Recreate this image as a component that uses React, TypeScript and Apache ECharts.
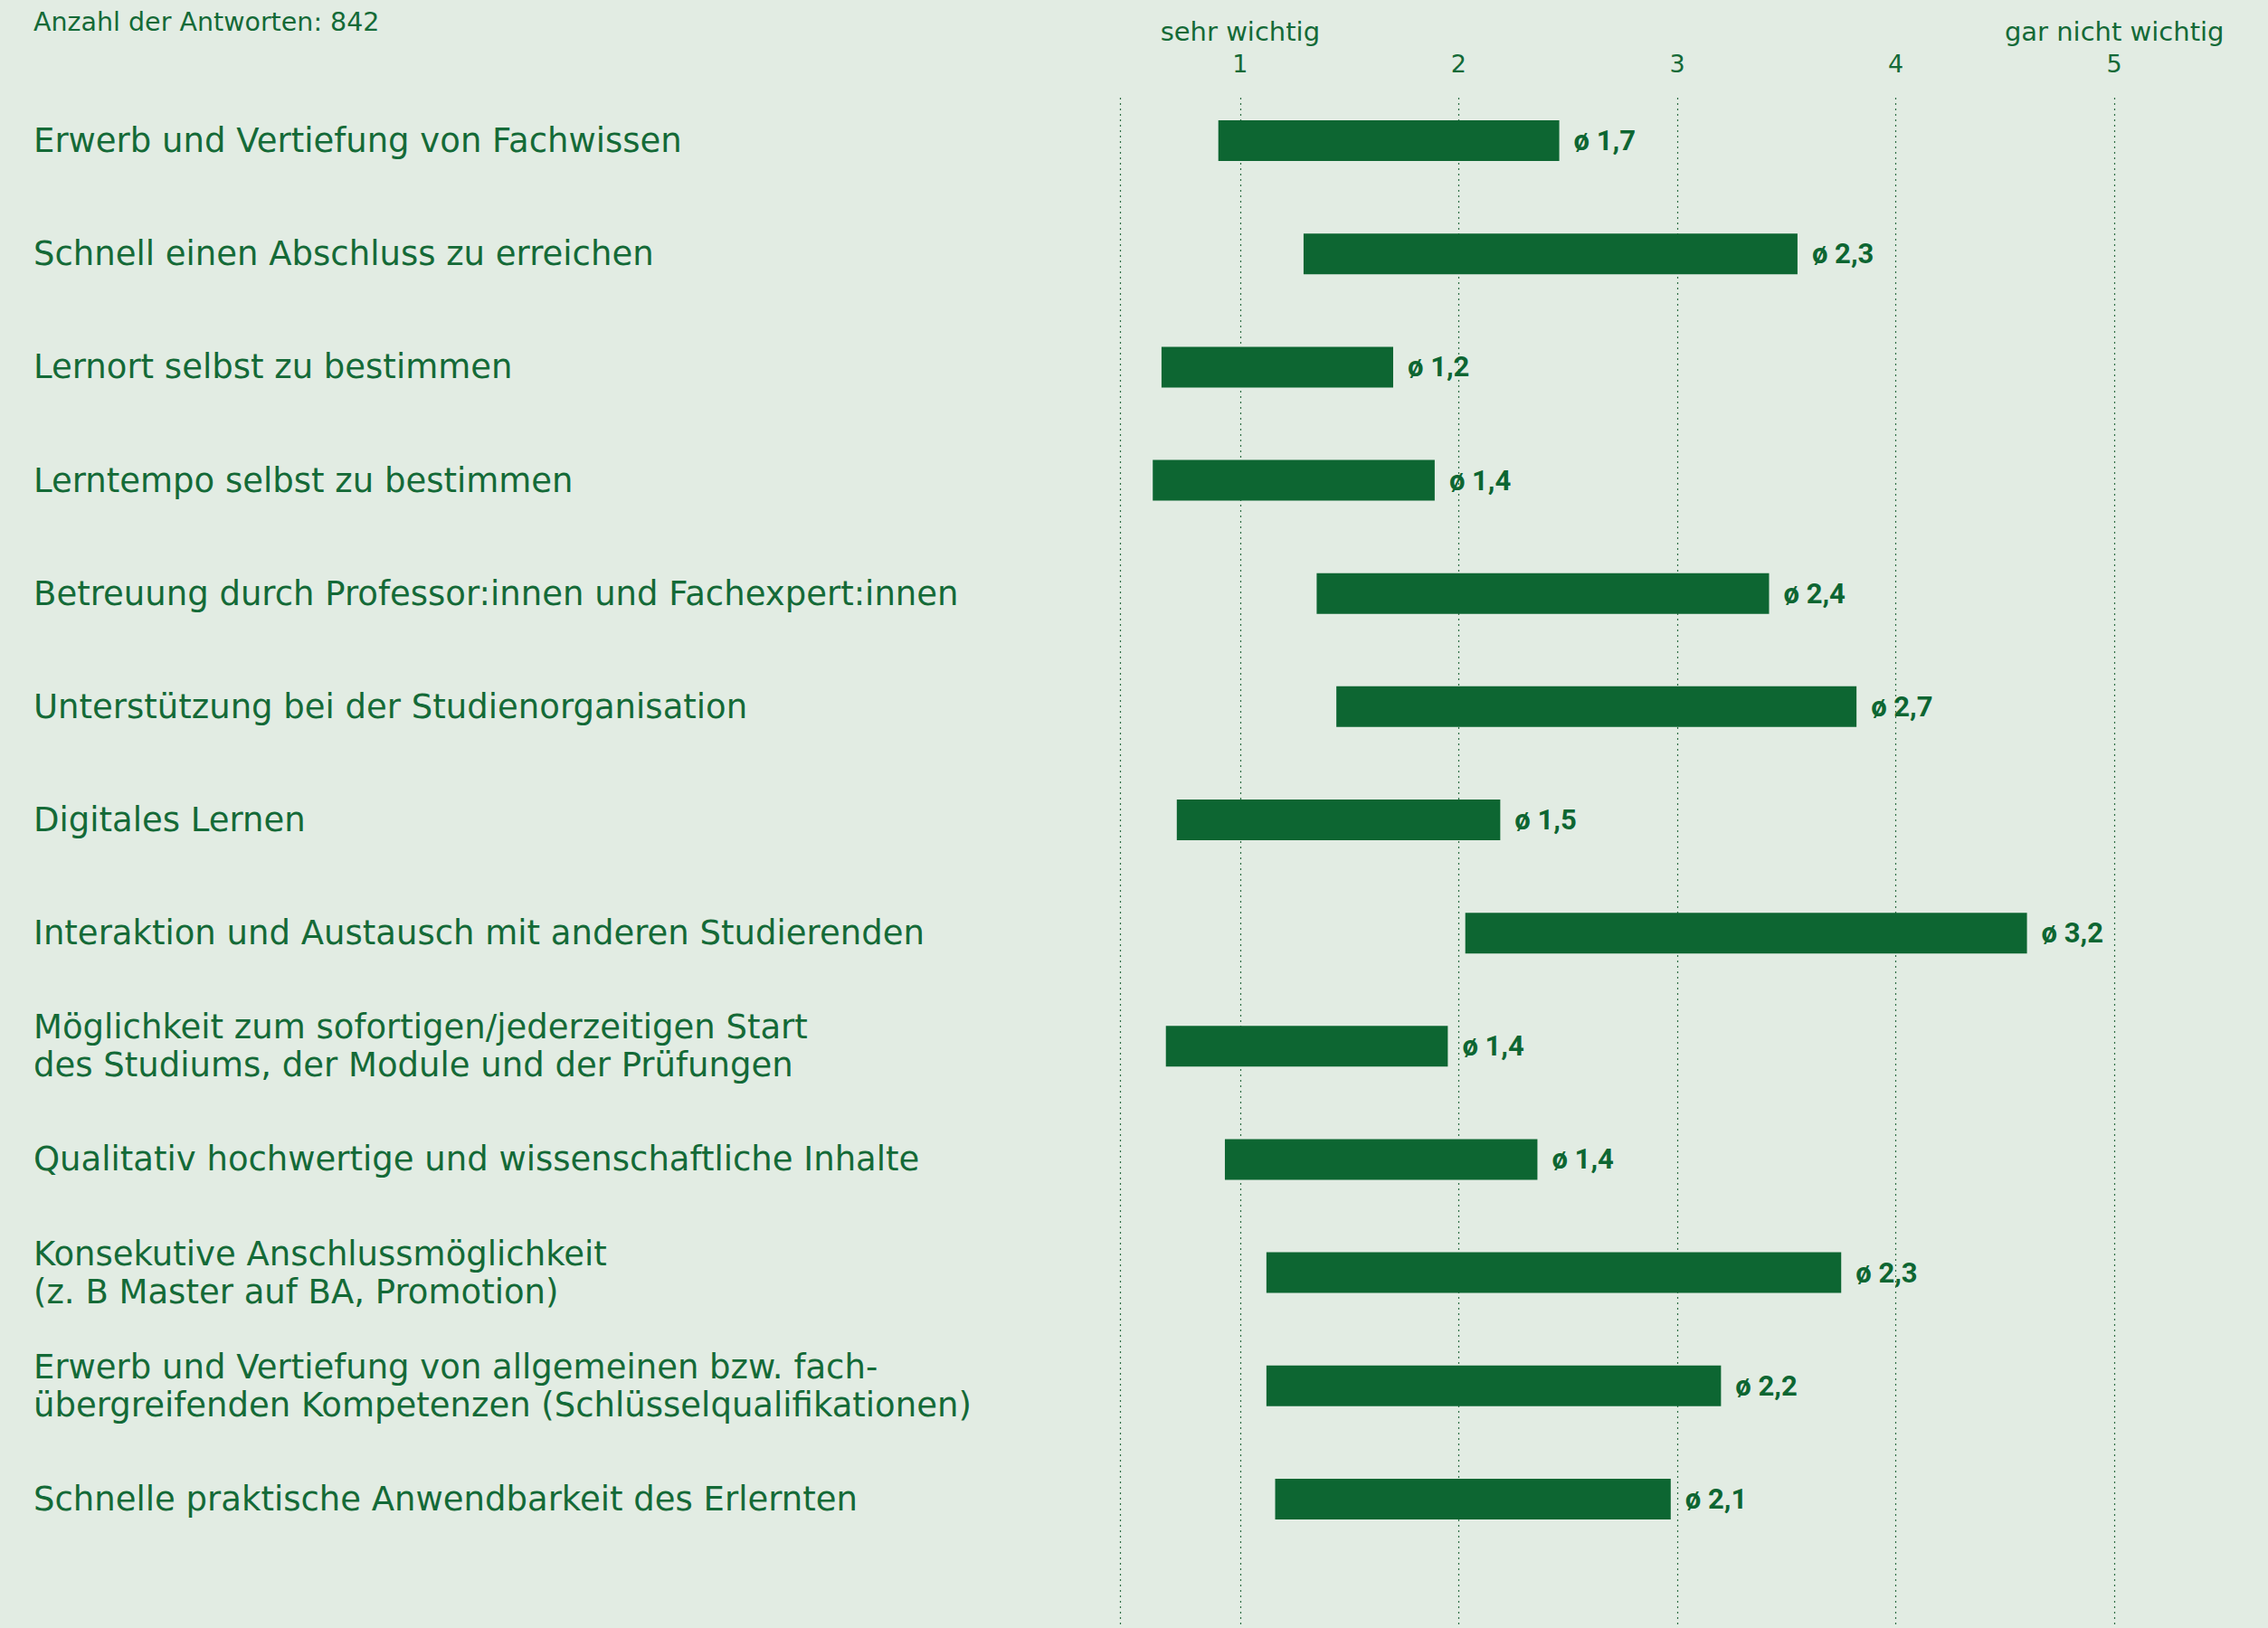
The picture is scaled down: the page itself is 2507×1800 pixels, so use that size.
import React, { useEffect, useRef } from "react";
import * as echarts from "echarts";

const headerText = "Anzahl der Antworten: 842";

const categories = [
  "Erwerb und Vertiefung von Fachwissen",
  "Schnell einen Abschluss zu erreichen",
  "Lernort selbst zu bestimmen",
  "Lerntempo selbst zu bestimmen",
  "Betreuung durch Professor:innen und Fachexpert:innen",
  "Unterstützung bei der Studienorganisation",
  "Digitales Lernen",
  "Interaktion und Austausch mit anderen Studierenden",
  "Möglichkeit zum sofortigen/jederzeitigen Start\ndes Studiums, der Module und der Prüfungen",
  "Qualitativ hochwertige und wissenschaftliche Inhalte",
  "Konsekutive Anschlussmöglichkeit\n(z. B Master auf BA, Promotion)",
  "Erwerb und Vertiefung von allgemeinen bzw. fach-\nübergreifenden Kompetenzen (Schlüsselqualifikationen)",
  "Schnelle praktische Anwendbarkeit des Erlernten",
];

const rangeStart = [0.9, 1.29, 0.64, 0.6, 1.35, 1.44, 0.71, 2.03, 0.66, 0.93, 1.12, 1.12, 1.16];
const rangeEnd = [2.46, 3.55, 1.7, 1.89, 3.42, 3.82, 2.19, 4.6, 1.95, 2.36, 3.75, 3.2, 2.97];
const averages = [1.7, 2.3, 1.2, 1.4, 2.4, 2.7, 1.5, 3.2, 1.4, 1.4, 2.3, 2.2, 2.1];

const tickValues = [1, 2, 3, 4, 5];
const lowLabel = "sehr wichtig";
const highLabel = "gar nicht wichtig";

const BG = "#e2ece3";
const BAR = "#0d6632";
const TEXT = "#146a37";
const FONT = "'DejaVu Sans', 'Noto Sans', sans-serif";
const VALUE_FONT = "Roboto, 'Noto Sans', sans-serif";

const X_MIN = 0.45;
const X_MAX = 5.5;

export default function App() {
  const ref = useRef<HTMLDivElement>(null);

  useEffect(() => {
    if (!ref.current) return;
    const chart = echarts.init(ref.current, null, { renderer: "svg" });

    const spans = rangeEnd.map((e, i) => +(e - rangeStart[i]).toFixed(3));

    const option = {
      animation: false,
      backgroundColor: BG,
      textStyle: { fontFamily: FONT },
      title: {
        text: headerText,
        left: 37,
        top: 10,
        padding: 0,
        textStyle: { fontFamily: FONT, fontSize: 28.5, fontWeight: "normal", color: TEXT },
      },
      grid: [
        { left: 1238, right: 49, top: 93, bottom: 80 },
        { left: 1238, right: 49, top: 108, bottom: 0 },
      ],
      xAxis: [
        {
          gridIndex: 0,
          type: "value",
          min: X_MIN,
          max: X_MAX,
          show: false,
        },
        {
          gridIndex: 1,
          type: "value",
          position: "top",
          min: X_MIN,
          max: X_MAX,
          splitNumber: 5,
          minInterval: 1,
          maxInterval: 1,
          axisLine: { show: false },
          axisTick: { show: false },
          splitLine: {
            show: true,
            showMinLine: true,
            showMaxLine: false,
            lineStyle: { color: "#2f6e45", type: [2, 4], width: 1.2 },
          },
          axisLabel: {
            show: true,
            showMinLabel: false,
            showMaxLabel: false,
            margin: 21,
            formatter: (v: number) => {
              if (!tickValues.includes(v)) return "";
              if (v === tickValues[0]) return `{t|${lowLabel}}\n{n|${v}}`;
              if (v === tickValues[tickValues.length - 1]) return `{t|${highLabel}}\n{n|${v}}`;
              return `{n|${v}}`;
            },
            rich: {
              t: { fontFamily: FONT, fontSize: 29, color: TEXT, lineHeight: 36, align: "center" },
              n: { fontFamily: FONT, fontSize: 27, color: TEXT, lineHeight: 34, align: "center" },
            },
          },
        },
      ],
      yAxis: [
        {
          gridIndex: 0,
          type: "category",
          inverse: true,
          data: categories,
          axisLine: { show: false },
          axisTick: { show: false },
          splitLine: { show: false },
          axisLabel: {
            align: "left",
            margin: 1201,
            fontFamily: FONT,
            fontSize: 37,
            lineHeight: 42,
            color: TEXT,
          },
        },
        {
          gridIndex: 1,
          type: "value",
          show: false,
          min: 0,
          max: 1,
        },
      ],
      series: [
        {
          type: "bar",
          xAxisIndex: 0,
          yAxisIndex: 0,
          stack: "range",
          data: rangeStart,
          barWidth: 45,
          itemStyle: { color: "transparent" },
          silent: true,
        },
        {
          type: "bar",
          xAxisIndex: 0,
          yAxisIndex: 0,
          stack: "range",
          data: spans,
          barWidth: 45,
          itemStyle: { color: BAR },
          label: {
            show: true,
            position: "right",
            distance: 16,
            fontFamily: VALUE_FONT,
            fontSize: 31,
            fontWeight: "bold",
            color: BAR,
            formatter: (p: any) => "ø " + averages[p.dataIndex].toFixed(1).replace(".", ","),
          },
        },
      ],
    };

    chart.setOption(option as any);
    return () => chart.dispose();
  }, []);

  return (
    <div
      ref={ref}
      style={{ position: "absolute", left: 0, top: 0, width: 2507, height: 1800, background: BG }}
    />
  );
}
